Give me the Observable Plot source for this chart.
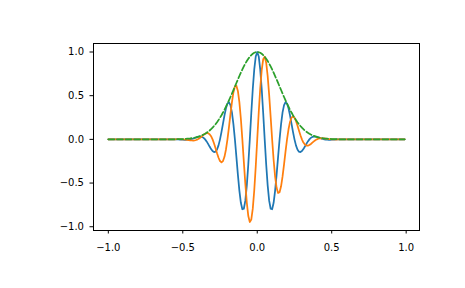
<!DOCTYPE html>
<html><head><meta charset="utf-8">
<script src="https://cdn.jsdelivr.net/npm/d3@7"></script>
<script src="https://cdn.jsdelivr.net/npm/@observablehq/plot@0.6"></script>
<style>body{margin:0;background:#fff}</style>
</head><body><div id="chart"></div>
<script>
const t = [-1.00,
 -0.55,-0.54,-0.53,-0.52,-0.51,-0.50,-0.49,-0.48,-0.47,-0.46,
 -0.45,-0.44,-0.43,-0.42,-0.41,-0.40,-0.39,-0.38,-0.37,-0.36,
 -0.35,-0.34,-0.33,-0.32,-0.31,-0.30,-0.29,-0.28,-0.27,-0.26,
 -0.25,-0.24,-0.23,-0.22,-0.21,-0.20,-0.19,-0.18,-0.17,-0.16,
 -0.15,-0.14,-0.13,-0.12,-0.11,-0.10,-0.09,-0.08,-0.07,-0.06,
 -0.05,-0.04,-0.03,-0.02,-0.01,
 0.00,
 0.01,0.02,0.03,0.04,0.05,
 0.06,0.07,0.08,0.09,0.10,0.11,0.12,0.13,0.14,0.15,
 0.16,0.17,0.18,0.19,0.20,0.21,0.22,0.23,0.24,0.25,
 0.26,0.27,0.28,0.29,0.30,0.31,0.32,0.33,0.34,0.35,
 0.36,0.37,0.38,0.39,0.40,0.41,0.42,0.43,0.44,0.45,
 0.46,0.47,0.48,0.49,0.50,0.51,0.52,0.53,0.54,0.55,
 0.99];
const inPhase = [0,
 0,-0.0005,-0.0011,-0.0019,-0.0029,-0.0038,-0.0045,-0.0047,-0.0042,-0.0027,
 0,0.0041,0.0095,0.0158,0.0223,0.0281,0.0319,0.0322,0.0277,0.0171,
 0,-0.0234,-0.0517,-0.0823,-0.1113,-0.1341,-0.1455,-0.1406,-0.1155,-0.0683,
 0,0.0854,0.1804,0.2746,0.3553,0.4094,0.4248,0.3925,0.3083,0.1745,
 0,-0.1995,-0.4031,-0.5866,-0.7259,-0.7999,-0.7937,-0.7013,-0.5269,-0.2852,
 0,0.2982,0.5761,0.8018,0.9489,
 1,
 0.9489,0.8018,0.5761,0.2982,0,
 -0.2852,-0.5269,-0.7013,-0.7937,-0.7999,-0.7259,-0.5866,-0.4031,-0.1995,0,
 0.1745,0.3083,0.3925,0.4248,0.4094,0.3553,0.2746,0.1804,0.0854,0,
 -0.0683,-0.1155,-0.1406,-0.1455,-0.1341,-0.1113,-0.0823,-0.0517,-0.0234,0,
 0.0171,0.0277,0.0322,0.0319,0.0281,0.0223,0.0158,0.0095,0.0041,0,
 -0.0027,-0.0042,-0.0047,-0.0045,-0.0038,-0.0029,-0.0019,-0.0011,-0.0005,0,
 0];
const quadrature = [0,
 0.0012,0.0014,0.0015,0.0014,0.0009,0,-0.0015,-0.0034,-0.0058,-0.0084,
 -0.0109,-0.0126,-0.0130,-0.0115,-0.0072,0,0.0104,0.0234,0.0381,0.0527,
 0.0649,0.0720,0.0711,0.0598,0.0362,0,-0.0473,-0.1021,-0.1589,-0.2103,
 -0.2478,-0.2629,-0.2484,-0.1995,-0.1155,0,0.1380,0.2852,0.4244,0.5370,
 0.6051,0.6140,0.5548,0.4262,0.2359,0,-0.2579,-0.5095,-0.7252,-0.8776,
 -0.9457,-0.9177,-0.7929,-0.5826,-0.3083,
 0,
 0.3083,0.5826,0.7929,0.9177,0.9457,
 0.8776,0.7252,0.5095,0.2579,0,-0.2359,-0.4262,-0.5548,-0.6140,-0.6051,
 -0.5370,-0.4244,-0.2852,-0.1380,0,0.1155,0.1995,0.2484,0.2629,0.2478,
 0.2103,0.1589,0.1021,0.0473,0,-0.0362,-0.0598,-0.0711,-0.0720,-0.0649,
 -0.0527,-0.0381,-0.0234,-0.0104,0,0.0072,0.0115,0.0130,0.0126,0.0109,
 0.0084,0.0058,0.0034,0.0015,0,-0.0009,-0.0014,-0.0015,-0.0014,-0.0012,
 0];
const envelope = [0,
 0.0012,0.0015,0.0019,0.0024,0.0030,0.0038,0.0047,0.0058,0.0072,0.0089,
 0.0109,0.0133,0.0161,0.0195,0.0235,0.0281,0.0335,0.0398,0.0471,0.0554,
 0.0649,0.0757,0.0879,0.1017,0.1170,0.1341,0.1530,0.1738,0.1965,0.2211,
 0.2478,0.2764,0.3070,0.3394,0.3736,0.4094,0.4467,0.4851,0.5246,0.5647,
 0.6051,0.6456,0.6857,0.7251,0.7633,0.7999,0.8346,0.8669,0.8964,0.9228,
 0.9457,0.9649,0.9801,0.9911,0.9978,
 1.0000,
 0.9978,0.9911,0.9801,0.9649,0.9457,
 0.9228,0.8964,0.8669,0.8346,0.7999,0.7633,0.7251,0.6857,0.6456,0.6051,
 0.5647,0.5246,0.4851,0.4467,0.4094,0.3736,0.3394,0.3070,0.2764,0.2478,
 0.2211,0.1965,0.1738,0.1530,0.1341,0.1170,0.1017,0.0879,0.0757,0.0649,
 0.0554,0.0471,0.0398,0.0335,0.0281,0.0235,0.0195,0.0161,0.0133,0.0109,
 0.0089,0.0072,0.0058,0.0047,0.0038,0.0030,0.0024,0.0019,0.0015,0.0012,
 0];
const xTicks = [-1, -0.5, 0, 0.5, 1];
const yTicks = [-1, -0.5, 0, 0.5, 1];

const rows = t.map((x, k) => ({t: x, i: inPhase[k], q: quadrature[k], e: envelope[k]}));
const fmt = d => d.toFixed(1).replace("-", "\u2212");

const chart = Plot.plot({
  width: 465, height: 288,
  marginLeft: 93, marginRight: 46, marginTop: 43, marginBottom: 58,
  style: {fontFamily: "DejaVu Sans", fontSize: "10px", color: "black", background: "white"},
  x: {domain: [-1.0995, 1.0895]},
  y: {domain: [-1.0430, 1.0973]},
  marks: [
    Plot.line(rows, {x: "t", y: "i", stroke: "#1f77b4", strokeWidth: 1.75}),
    Plot.line(rows, {x: "t", y: "q", stroke: "#ff7f0e", strokeWidth: 1.75}),
    Plot.line(rows, {x: "t", y: "e", stroke: "#2ca02c", strokeWidth: 1.75, strokeDasharray: "6,2.6"}),
    Plot.frame({stroke: "black", strokeWidth: 1}),
    Plot.axisX({ticks: xTicks, tickFormat: fmt, tickSize: 3.5, tickPadding: 10, label: null}),
    Plot.axisY({ticks: yTicks, tickFormat: fmt, tickSize: 3.5, tickPadding: 6, label: null})
  ]
});
document.getElementById("chart").appendChild(chart);
</script>
</body></html>
